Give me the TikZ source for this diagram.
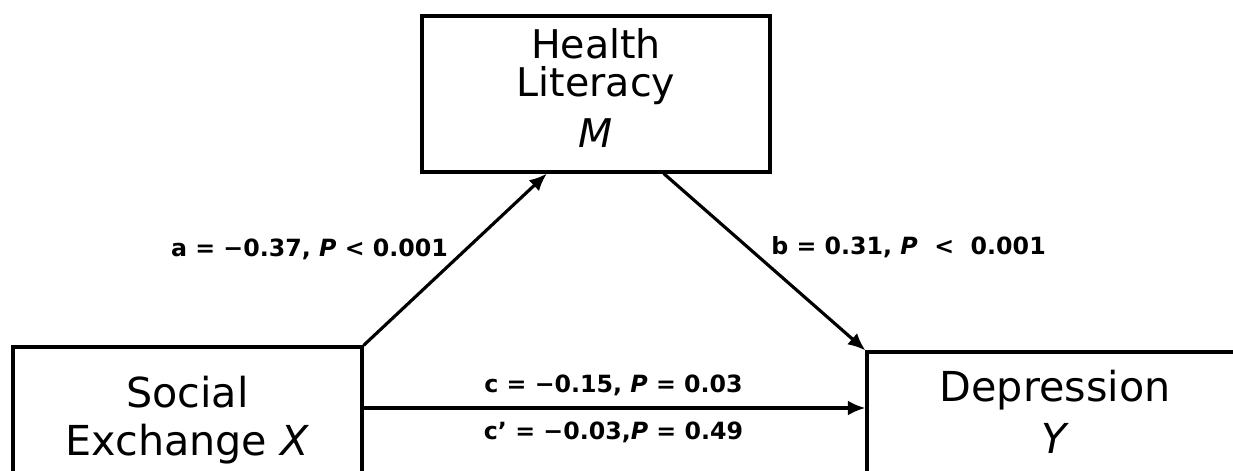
\documentclass[tikz,border=0pt]{standalone}
\usepackage{fontspec}
\setmainfont{DejaVu Sans}
\usetikzlibrary{arrows.meta,calc}
\begin{document}
\begin{tikzpicture}[x=0.02cm,y=-0.02cm]
\tikzstyle{box}=[draw, line width=1.8pt, align=center, inner sep=0pt, font=\fontsize{23.5}{27.2}\selectfont]
\tikzstyle{lbl}=[font=\bfseries\fontsize{13.5}{15}\selectfont, inner sep=0pt]
\tikzstyle{arr}=[line width=1.8pt, -{Latex[length=10pt,width=8.5pt]}]
\useasboundingbox (0,0) rectangle (1233,470);
\clip (0,0) rectangle (1233,470);

\node[box, font=\fontsize{22.5}{21.6}\selectfont, minimum width=6.96cm, minimum height=3.12cm] (hl) at (596,94) {Health\\Literacy\\[7.5pt]\textit{M}\strut};
\node[box, minimum width=6.98cm, minimum height=2.92cm] (se) at (187.5,420) {Social\\Exchange \textit{X}};
\node[box, minimum width=7.52cm, minimum height=2.68cm] (dep) at (1055,419) {Depression\\[2pt]\textit{Y}\strut};

\coordinate (cy) at (600,408);

\draw[arr] (se.north east) -- ($(hl.south west)!0.36!(hl.south east)$);
\draw[arr] ($(hl.south west)!0.693!(hl.south east)$) -- (dep.north west);
\draw[arr] (se.east |- cy) -- (dep.west |- cy);

\node[lbl] (la) at (309.5,249) {a = −0.37, \textit{P} < 0.001};
\node[lbl] (lb) at (908.5,247) {b = 0.31, \textit{P}\ \ <\ \ 0.001};
\node[lbl] (lc) at (613.5,385) {c = −0.15, \textit{P} = 0.03};
\node[lbl] (ld) at (613.5,432) {c’ = −0.03,\textit{P} = 0.49};

\end{tikzpicture}
\end{document}
